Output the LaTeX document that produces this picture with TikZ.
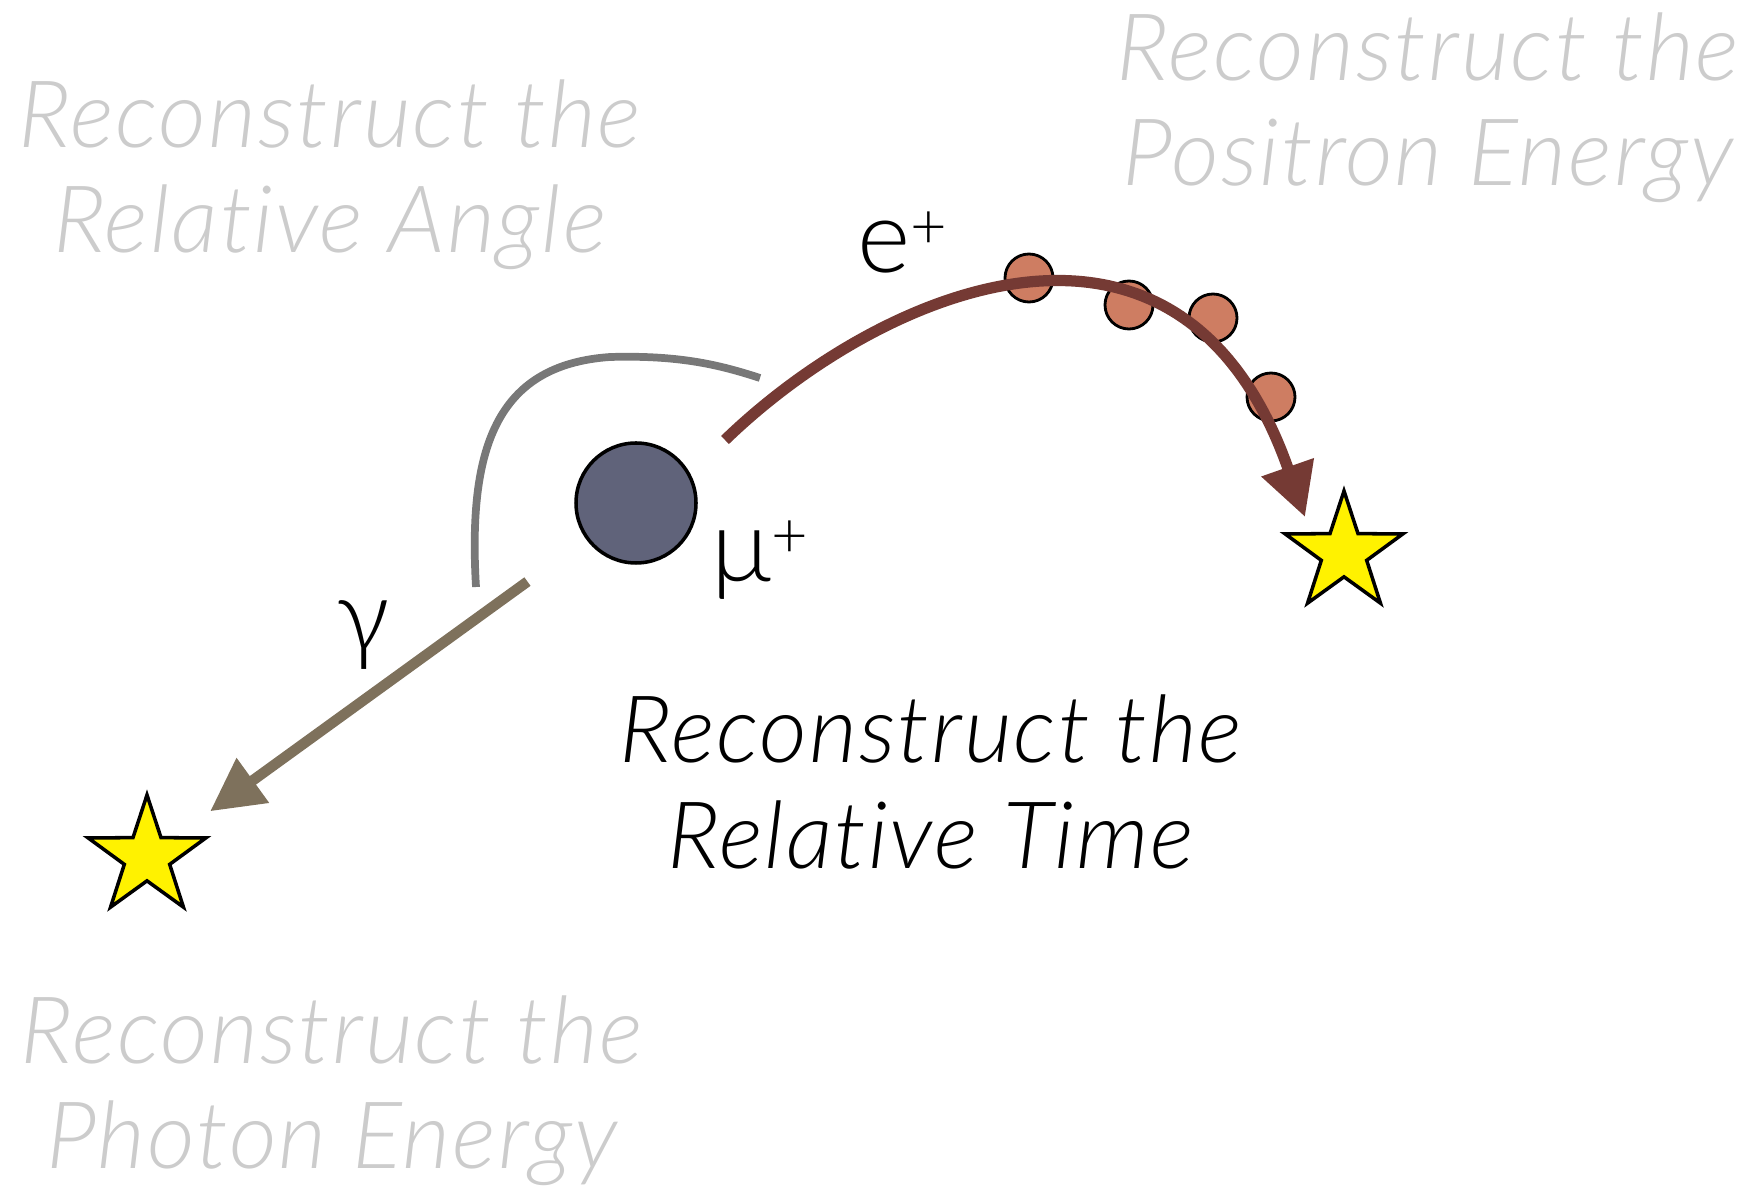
\documentclass[tikz,border=0pt]{standalone}
\usepackage{fontspec}
\setmainfont{Lato}[UprightFont={* Light}, ItalicFont={* Light Italic},
  Ligatures=NoCommon]
\usepackage{tikz}
\usetikzlibrary{arrows.meta, shapes.geometric, calc}
\definecolor{paletext}{RGB}{204,204,204}
\definecolor{muonblue}{RGB}{96,99,122}
\definecolor{trackbrown}{RGB}{117,58,52}
\definecolor{hitorange}{RGB}{206,125,98}
\definecolor{photontan}{RGB}{126,113,92}
\definecolor{arcgray}{RGB}{120,120,120}
\newcommand{\chg}{\raisebox{7pt}{\fontsize{18}{18}\selectfont +}}

\begin{document}
\begin{tikzpicture}[
  recotext/.style={font=\addfontfeatures{LetterSpace=2}\itshape\fontsize{26.5}{30}\selectfont,
                   align=center, text=paletext},
  particle/.style={font=\fontsize{29}{34}\selectfont, inner sep=0pt},
  target/.style={star, star points=5, star point ratio=2.6, minimum size=1.24cm,
                 inner sep=0pt, draw=black, line width=1pt, fill=yellow},
  hitdot/.style={draw=black, line width=0.8pt, fill=hitorange}]
  \useasboundingbox (0,0) rectangle (17.49,11.86);
  % what has to be reconstructed
  \node[recotext] (angletxt) at (3.30,10.11) {Reconstruct the\\Relative Angle};
  \node[recotext] (positrontxt) at (14.28,10.78) {Reconstruct the\\Positron Energy};
  \node[recotext] (photontxt) at (3.32,0.95) {Reconstruct the\\Photon Energy};
  \node[recotext, text=black] (timetxt) at (9.31,4.04) {Reconstruct the\\Relative Time};
  % muon at rest and the two hit points
  \node[circle, draw, line width=1pt, fill=muonblue, minimum size=1.2cm, inner sep=0pt]
    (mu) at (6.36,6.83) {};
  \node[target] (starR) at (13.44,6.33) {};
  \node[target] (starL) at (1.47,3.29) {};
  % ends of the tracks
  \coordinate (eStart) at ($(mu)+(0.89,0.63)$);
  \coordinate (eEnd) at ($(starR)+(-0.39,0.36)$);
  \coordinate (angA) at ($(mu)+(-1.60,-0.84)$);
  \coordinate (angB) at ($(mu)+(1.24,1.25)$);
  % opening angle between the daughters
  \draw[arcgray, line width=2.2pt]
    (angA) .. controls (4.68,7.36) and (4.95,8.21) ..
    (6.10,8.29) .. controls (6.80,8.31) and (7.20,8.21) .. (angB);
  % hits along the positron track
  \foreach \hx/\hy in {10.29/9.08, 11.29/8.81, 12.13/8.68, 12.71/7.89} {
    \draw[hitdot] (\hx,\hy) circle (0.24);
  }
  % positron track
  \draw[trackbrown, line width=3.2pt, -{Triangle[length=15pt, width=15pt]}]
    (eStart) .. controls +(1.55,1.50) and +(-1.25,3.57) .. (eEnd);
  % photon
  \draw[photontan, line width=3pt, -{Triangle[length=15pt, width=15pt]},
        shorten <=1.34cm, shorten >=0.78cm] (mu.center) -- (starL.center);
  % labels
  \node[particle, anchor=base west] (elabel) at (8.57,9.13) {e\chg};
  \node[particle, anchor=base west] (mulabel) at (7.11,6.04) {μ\chg};
  \node[particle, anchor=base] (glabel) at (3.63,5.34) {γ};
\end{tikzpicture}
\end{document}
